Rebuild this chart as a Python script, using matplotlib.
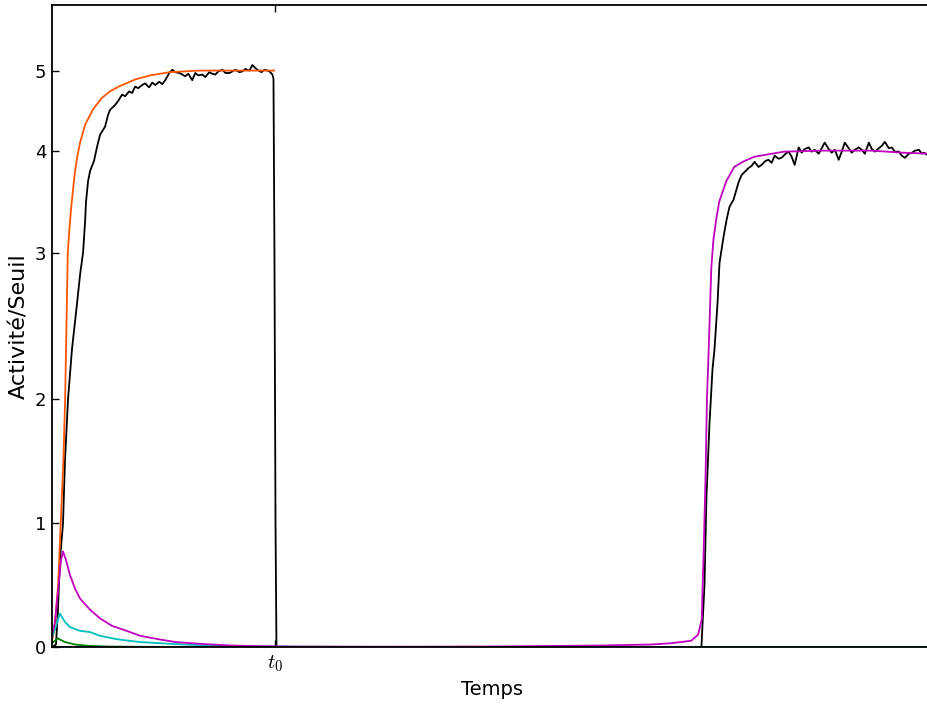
import numpy as np
import matplotlib
matplotlib.use('Agg')
import matplotlib.pyplot as plt

plt.rcParams['mathtext.fontset'] = 'cm'

# time axis (arbitrary units, 0..1000), t0 = end of the first stimulus
t_max = 1000
t0 = 254

# theoretical curve, population 1 (orange)
t_orange = [0, 3, 7, 10, 13, 15, 18, 20, 22, 24, 26, 29, 32, 38, 47, 57, 66, 76, 95, 112, 134, 169,
            215, 253]
y_orange = [0.05, 0.15, 0.5, 1.0, 1.5, 2.0, 3.0, 3.25, 3.45, 3.62, 3.78, 3.95, 4.1, 4.33, 4.52, 4.66,
            4.74, 4.80, 4.89, 4.94, 4.98, 5.0, 5.0, 5.0]

# simulated activity, population 1 (black)
t_k1 = [0, 4.6, 6.8, 9.1, 12.6, 14.8, 18.3, 22.8, 28.5, 32, 35.4, 37.7, 38.8, 41.1, 43.4, 47.9,
        51.4, 54.8, 57.1, 60.5, 64, 66.2, 71.9, 75.3, 79.9, 83.3, 87.9, 91.3, 94.7, 98.2, 102.7,
        106.2, 110.6, 114.2, 117.6, 122.2, 125.6, 129, 133.6, 137, 140.4, 145, 148.4, 151.8, 155.3,
        159.8, 163.2, 166.7, 171.2, 174.7, 179.2, 182.7, 186.1, 189.5, 194.1, 197.5, 202.1, 205.5,
        208.9, 213.5, 216.9, 220.3, 224.9, 228.3, 231.7, 234, 238.6, 242, 245.4, 247.7, 251.1,
        252.3, 253.4, 254.6, 255.7, 1000]
y_k1 = [0, 0.02, 0.3, 0.7, 1.0, 1.5, 2.0, 2.34, 2.65, 2.85, 3.0, 3.3, 3.5, 3.7, 3.8, 3.9,
        4.05, 4.2, 4.24, 4.3, 4.45, 4.51, 4.57, 4.62, 4.70, 4.68, 4.74, 4.72, 4.80, 4.78, 4.82,
        4.84, 4.79, 4.85, 4.82, 4.86, 4.83, 4.88, 4.97, 5.01, 4.98, 4.97, 4.95, 4.93, 4.96,
        4.88, 4.97, 4.94, 4.95, 4.92, 4.98, 4.96, 4.95, 4.99, 5.01, 4.97, 4.97, 4.99,
        5.01, 4.98, 4.99, 5.02, 5.00, 5.07, 5.03, 5.01, 4.98, 5.01, 5.00, 4.99, 4.95,
        4.9, 3.0, 1.0, 0, 0]

# simulated activity, population 2 (black)
t_k2 = [0, 739.7, 743.2, 745.4, 748.9, 752.3, 754.6, 758, 760.3, 764.8, 768.3, 771.7, 776.3, 782,
        785.4, 790, 793.4, 796.8, 800.2, 804.8, 808.2, 812.8, 816.2, 819.6, 823.1, 827.6, 831,
        835.6, 839, 842.5, 845.9, 850.5, 853.9, 857.3, 861.9, 865.3, 868.7, 873.3, 876.7, 880.1,
        884.7, 888.1, 891.6, 896.1, 899.5, 903, 907.5, 910.9, 914.4, 918.9, 922.4, 925.8, 930.4,
        933.8, 937.2, 941.8, 945.2, 948.6, 953.2, 956.6, 960, 964.6, 968, 971.5, 976, 979.5,
        982.9, 987.4, 990.9, 993.2, 996.6, 1000]
y_k2 = [0, 0.0, 0.5, 1.2, 1.8, 2.2, 2.34, 2.65, 2.93, 3.15, 3.32, 3.45, 3.52, 3.69,
        3.76, 3.80, 3.83, 3.85, 3.89, 3.84, 3.86, 3.90, 3.91, 3.88, 3.95, 3.92, 3.93,
        3.97, 3.99, 3.94, 3.86, 4.04, 3.98, 4.02, 4.04, 3.99, 4.01, 3.97, 4.03, 4.10,
        4.02, 3.98, 4.01, 3.91, 3.99, 4.10, 4.03, 3.98, 4.01, 4.04, 4.01, 3.97, 4.10,
        4.02, 3.99, 4.03, 4.06, 4.11, 4.03, 4.04, 3.99, 3.99, 3.95, 3.93, 3.97, 3.98,
        4.00, 4.01, 3.97, 3.98, 3.96, 3.95]

# theoretical curve, population 2 (magenta)
t_mag = [0, 3.4, 6.8, 10.3, 12.6, 16, 20.5, 26.3, 32, 43.4, 54.8, 68.5, 81, 100.5, 123.3, 140.4,
         169, 203, 237, 283, 397, 511, 626, 683, 705, 728, 736, 740, 742, 744.5, 746, 748, 751,
         753.4, 757, 760, 768, 777, 789, 800, 820, 834, 877, 934, 968, 1000]
y_mag = [0.1, 0.2, 0.45, 0.7, 0.77, 0.7, 0.58, 0.47, 0.39, 0.30, 0.23, 0.17, 0.14, 0.09, 0.06, 0.04,
         0.025, 0.012, 0.006, 0.003, 0.002, 0.004, 0.012, 0.02, 0.03, 0.05, 0.1, 0.22, 0.7, 1.4, 2.0,
         2.34, 2.9, 3.13, 3.35, 3.5, 3.7, 3.84, 3.9, 3.94, 3.97, 3.99, 4.0, 4.0, 3.98, 3.97]

# other populations
t_cyan = [0, 3.4, 6.8, 9, 11.4, 15, 20.5, 32, 43.4, 54.8, 72, 81, 100, 138, 169, 226, 283, 400, 1000]
y_cyan = [0.08, 0.14, 0.22, 0.27, 0.24, 0.2, 0.16, 0.13, 0.12, 0.09, 0.065, 0.056, 0.04, 0.024,
          0.014, 0.005, 0.002, 0, 0]

t_green = [0, 3.4, 6.8, 9, 14.8, 26, 43, 66, 110, 200, 1000]
y_green = [0.03, 0.05, 0.07, 0.06, 0.04, 0.02, 0.008, 0.003, 0.001, 0, 0]

t_blue = [0, 1000]
y_blue = [0, 0]

# non-linear y scale: tick values and their heights on the axis
scale_v = [-1, 0, 1, 2, 3, 4, 5, 6, 7]
scale_h = [-124, 0, 124, 248, 394, 496, 576, 656, 736]


def fwd(v):
    return np.interp(v, scale_v, scale_h)


def inv(h):
    return np.interp(h, scale_h, scale_v)


fig = plt.figure(figsize=(9.28, 7.04), dpi=100)
ax = fig.add_axes([0.056, 0.081, 0.948, 0.912])
ax.set_yscale('function', functions=(fwd, inv))

lw = 1.3
ax.plot(t_k1, y_k1, color='k', lw=lw)
ax.plot(t_k2, y_k2, color='k', lw=lw)
ax.plot(t_blue, y_blue, color='#0000ff', lw=lw)
ax.plot(t_green, y_green, color='#008000', lw=lw)
ax.plot(t_orange, y_orange, color='#ff5500', lw=lw)
ax.plot(t_cyan, y_cyan, color='#00bfbf', lw=lw)
ax.plot(t_mag, y_mag, color='#bf00bf', lw=lw)

ax.set_xlim(0, t_max * 1.002)
ax.set_ylim(0, 5.82)
ax.set_yticks([0, 1, 2, 3, 4, 5])
ax.set_yticklabels(['0', '1', '2', '3', '4', '5'])
ax.set_xticks([t0])
ax.set_xticklabels([r'$t_0$'])
ax.yaxis.set_minor_locator(matplotlib.ticker.NullLocator())
ax.tick_params(direction='in', length=5, width=1, top=True, right=False, labelsize=13, pad=4)
ax.tick_params(axis='x', labelsize=15, pad=5)
for s in ax.spines.values():
    s.set_linewidth(1.3)

ax.set_xlabel('Temps', fontsize=14)
ax.set_ylabel('Activité/Seuil', fontsize=16)

fig.savefig('out.png', dpi=100)
